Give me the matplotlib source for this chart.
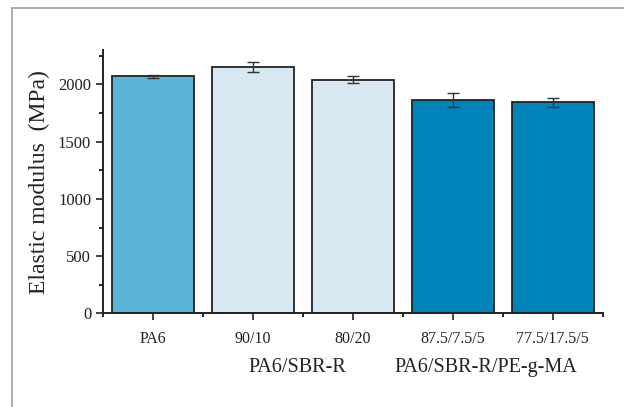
import matplotlib
matplotlib.use("Agg")
import matplotlib.pyplot as plt
from matplotlib.lines import Line2D
from matplotlib.ticker import MultipleLocator

# data
categories = ["PA6", "90/10", "80/20", "87.5/7.5/5", "77.5/17.5/5"]
modulus = [2070, 2155, 2040, 1862, 1845]
modulus_err = [15, 45, 30, 60, 38]
bar_colors = ["#5DB4D9", "#D8E8F2", "#D8E8F2", "#0083B8", "#0083B8"]
groups = ["PA6/SBR-R", "PA6/SBR-R/PE-g-MA"]
group_pos = [1.44, 3.33]

plt.rcParams["font.family"] = ["Liberation Serif", "DejaVu Serif"]

fig = plt.figure(figsize=(6.24, 4.07), dpi=100)
ax = fig.add_axes([0.165, 0.230, 0.801, 0.647])

x = list(range(len(categories)))
ax.bar(x, modulus, width=0.82, color=bar_colors, edgecolor="#222222", linewidth=1.3,
       yerr=modulus_err, capsize=4,
       error_kw=dict(ecolor="#333333", elinewidth=1.0, capthick=1.0), zorder=2)

ax.set_xlim(-0.5, 4.5)
ax.set_ylim(0, 2300)
ax.yaxis.set_major_locator(MultipleLocator(500))
ax.yaxis.set_minor_locator(MultipleLocator(250))
ax.set_xticks(x)
ax.set_xticklabels(categories, fontsize=11.5, color="#222222")
ax.set_xticks([i + 0.5 for i in range(-1, len(categories))], minor=True)
ax.tick_params(axis="y", labelsize=12, colors="#222222", length=5, width=1.2, direction="out")
ax.tick_params(axis="y", which="minor", length=3, width=1.2)
ax.tick_params(axis="x", length=5, width=1.2, pad=8, colors="#222222")
ax.tick_params(axis="x", which="minor", length=3, width=1.2)

for side in ["top", "right"]:
    ax.spines[side].set_visible(False)
for side in ["left", "bottom"]:
    ax.spines[side].set_linewidth(1.4)
    ax.spines[side].set_color("#222222")

ax.set_ylabel("Elastic modulus  (MPa)", fontsize=17, color="#222222", labelpad=6)

for name, pos in zip(groups, group_pos):
    ax.text(pos, -0.17, name, transform=ax.get_xaxis_transform(),
            ha="center", va="top", fontsize=14.5, color="#222222")

# light frame around the figure panel
fig.add_artist(Line2D([12 / 624, 12 / 624], [0, 1 - 8 / 407], color="#A0A0A0", lw=1.2))
fig.add_artist(Line2D([12 / 624, 1], [1 - 8 / 407, 1 - 8 / 407], color="#A0A0A0", lw=1.2))

fig.savefig("out.png", dpi=100)
